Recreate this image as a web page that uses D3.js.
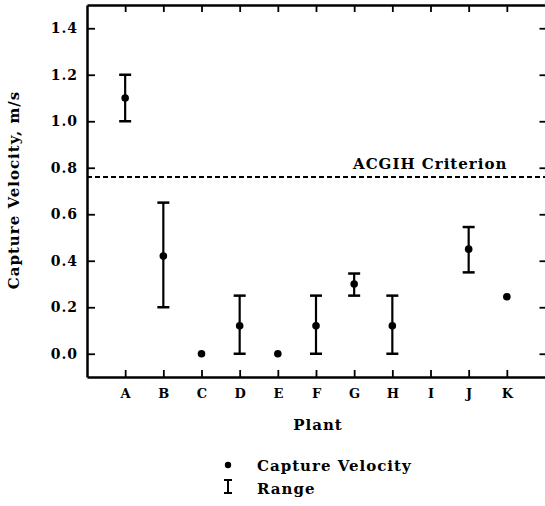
<!DOCTYPE html>
<html>
<head>
<meta charset="utf-8">
<script src="https://cdn.jsdelivr.net/npm/d3@7"></script>
<style>
    body { margin: 0; background: #fff; }
    text { font-family: "DejaVu Serif", serif; font-weight: bold; fill: #000; }
</style>
</head>
<body>
<div id="chart"></div>
<script>
'use strict';

// plant labels and readings (m/s), null = no measurement
var plants = ['A', 'B', 'C', 'D', 'E', 'F', 'G', 'H', 'I', 'J', 'K'];
var velocity = [1.10, 0.42, 0.00, 0.12, 0.00, 0.12, 0.30, 0.12, null, 0.45, 0.245];
var rangeLow = [1.00, 0.20, null, 0.00, null, 0.00, 0.25, 0.00, null, 0.35, null];
var rangeHigh = [1.20, 0.65, null, 0.25, null, 0.25, 0.345, 0.25, null, 0.545, null];
var yTicks = [0.0, 0.2, 0.4, 0.6, 0.8, 1.0, 1.2, 1.4];
var criterion = 0.76;

(function () {
    var w = 545, h = 506;
    var pLeft = 87, pRight = 545, pTop = 5, pBottom = 377;

    var svg = d3.select('#chart')
        .append('svg')
        .attr('width', w)
        .attr('height', h);

    var x = d3.scaleLinear().domain([0, plants.length + 1]).range([pLeft, pRight]);
    var y = d3.scaleLinear().domain([-0.1, 1.5]).range([pBottom, pTop]);

    // axes: ticks point inward
    var xBottom = d3.axisBottom(x)
        .tickValues(d3.range(1, plants.length + 1))
        .tickFormat(function (d) { return plants[d - 1]; })
        .tickSizeInner(-7).tickSizeOuter(0).tickPadding(12);

    var yLeft = d3.axisLeft(y)
        .tickValues(yTicks)
        .tickFormat(d3.format('.1f'))
        .tickSizeInner(-8).tickSizeOuter(0).tickPadding(9);

    var xTop = d3.axisTop(x)
        .tickValues(d3.range(1, plants.length + 1))
        .tickFormat('')
        .tickSizeInner(-7).tickSizeOuter(0);

    var yRight = d3.axisRight(y)
        .tickValues(yTicks)
        .tickFormat('')
        .tickSizeInner(-7).tickSizeOuter(0);

    var gb = svg.append('g').attr('transform', 'translate(0,' + pBottom + ')').call(xBottom);
    var gl = svg.append('g').attr('transform', 'translate(' + pLeft + ',0)').call(yLeft);
    svg.append('g').attr('transform', 'translate(0,' + pTop + ')').call(xTop);
    // right frame sits just past the picture edge
    svg.append('g').attr('transform', 'translate(' + (pRight + 1.5) + ',0)').call(yRight);

    svg.selectAll('.domain').attr('stroke', '#000').attr('stroke-width', 2.5);
    svg.selectAll('.tick line').attr('stroke', '#000').attr('stroke-width', 1.8);
    gb.selectAll('.tick text').style('font-size', '13px').attr('font-family', null);
    gl.selectAll('.tick text').style('font-size', '14px').style('letter-spacing', '1px').attr('font-family', null);

    // criterion line
    svg.append('line')
        .attr('x1', pLeft).attr('x2', pRight)
        .attr('y1', y(criterion)).attr('y2', y(criterion))
        .attr('stroke', '#000')
        .attr('stroke-width', 2)
        .attr('stroke-dasharray', '5,3');

    svg.append('text')
        .attr('x', 353).attr('y', y(criterion) - 8)
        .style('font-size', '15px').style('letter-spacing', '1px')
        .text('ACGIH Criterion');

    // range bars
    var bars = plants.map(function (p, i) {
        return { i: i, lo: rangeLow[i], hi: rangeHigh[i] };
    }).filter(function (d) { return d.lo !== null; });

    var eb = svg.append('g').selectAll('g')
        .data(bars)
        .enter()
        .append('g')
        .attr('stroke', '#000');

    eb.append('line')
        .attr('x1', function (d) { return x(d.i + 1); })
        .attr('x2', function (d) { return x(d.i + 1); })
        .attr('y1', function (d) { return y(d.lo); })
        .attr('y2', function (d) { return y(d.hi); })
        .attr('stroke-width', 2.2);

    ['lo', 'hi'].forEach(function (k) {
        eb.append('line')
            .attr('x1', function (d) { return x(d.i + 1) - 6; })
            .attr('x2', function (d) { return x(d.i + 1) + 6; })
            .attr('y1', function (d) { return y(d[k]); })
            .attr('y2', function (d) { return y(d[k]); })
            .attr('stroke-width', 2.5);
    });

    // points
    svg.append('g').selectAll('circle')
        .data(velocity.map(function (v, i) { return { i: i, v: v }; })
            .filter(function (d) { return d.v !== null; }))
        .enter()
        .append('circle')
        .attr('cx', function (d) { return x(d.i + 1); })
        .attr('cy', function (d) { return y(d.v); })
        .attr('r', 3.8)
        .attr('fill', '#000');

    // axis titles
    svg.append('text')
        .attr('x', (pLeft + pRight) / 2 + 2).attr('y', 430)
        .attr('text-anchor', 'middle')
        .style('font-size', '15px').style('letter-spacing', '1px')
        .text('Plant');

    svg.append('text')
        .attr('transform', 'translate(19,190) rotate(-90)')
        .attr('text-anchor', 'middle')
        .style('font-size', '15px').style('letter-spacing', '1px')
        .text('Capture Velocity, m/s');

    // legend
    svg.append('circle').attr('cx', 228).attr('cy', 465).attr('r', 3.2).attr('fill', '#000');
    svg.append('text').attr('x', 257).attr('y', 471)
        .style('font-size', '15px').style('letter-spacing', '1px')
        .text('Capture Velocity');

    var lg = svg.append('g').attr('stroke', '#000').attr('stroke-width', 2);
    lg.append('line').attr('x1', 228).attr('x2', 228).attr('y1', 480).attr('y2', 493);
    lg.append('line').attr('x1', 224).attr('x2', 232).attr('y1', 480).attr('y2', 480);
    lg.append('line').attr('x1', 224).attr('x2', 232).attr('y1', 493).attr('y2', 493);
    svg.append('text').attr('x', 257).attr('y', 494)
        .style('font-size', '15px').style('letter-spacing', '1px')
        .text('Range');
})();
</script>
</body>
</html>
